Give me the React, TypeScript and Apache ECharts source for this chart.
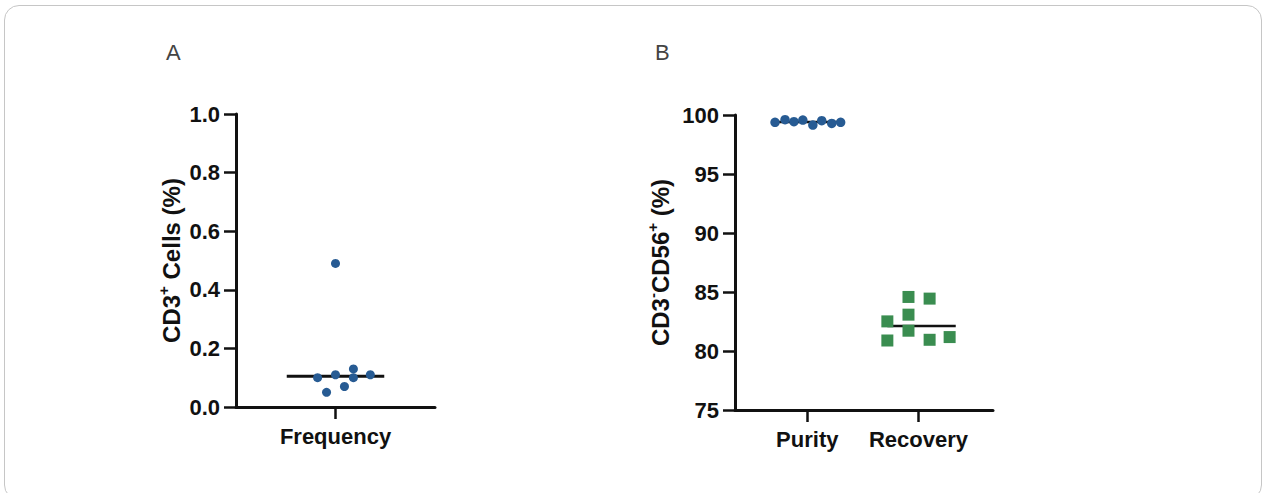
import React, { useEffect, useRef } from "react";
import * as echarts from "echarts";

// Panel A: CD3+ cells frequency
const freqCategory = "Frequency";
const freqValues = [0.49, 0.10, 0.05, 0.11, 0.07, 0.13, 0.10, 0.11];
const freqJitter = [0, -0.18, -0.09, 0, 0.09, 0.18, 0.18, 0.35];

// Panel B: purity and recovery of CD3-CD56+ cells
const purityCategory = "Purity";
const purityValues = [99.38, 99.6, 99.43, 99.57, 99.15, 99.52, 99.29, 99.38];
const purityJitter = [-0.29, -0.2, -0.12, -0.04, 0.05, 0.13, 0.22, 0.3];

const recoveryCategory = "Recovery";
const recoveryValues = [82.51, 80.89, 84.58, 83.08, 81.72, 84.44, 80.95, 81.18];
const recoveryJitter = [-0.28, -0.28, -0.09, -0.09, -0.09, 0.1, 0.1, 0.28];

const yTicksA = [0, 0.2, 0.4, 0.6, 0.8, 1.0];
const yTicksB = [75, 80, 85, 90, 95, 100];

const BLUE = "#275b93";
const GREEN = "#3a8d50";
const INK = "#111111";
const FONT = "'Liberation Sans', Arial, Helvetica, sans-serif";

function median(arr: number[]): number {
  const s = [...arr].sort((a, b) => a - b);
  const n = s.length;
  return n % 2 ? s[(n - 1) / 2] : (s[n / 2 - 1] + s[n / 2]) / 2;
}

export default function App() {
  const ref = useRef<HTMLDivElement>(null);

  useEffect(() => {
    if (!ref.current) return;
    const chart = echarts.init(ref.current, undefined, { renderer: "svg" });

    const axisLine = { show: true, onZero: false, lineStyle: { color: INK, width: 3 } };
    const axisTick = { show: true, length: 12, lineStyle: { color: INK, width: 2.5 } };
    const labelStyle = { color: INK, fontSize: 22, fontWeight: "bold" as const, fontFamily: FONT };
    const nameStyle = {
      color: INK,
      fontSize: 24,
      fontWeight: "bold" as const,
      fontFamily: FONT,
      rich: {
        m: { fontSize: 24, fontWeight: "bold" as const, fontFamily: FONT, color: INK, lineHeight: 30 },
        sup: { fontSize: 15, fontWeight: "bold" as const, fontFamily: FONT, color: INK, verticalAlign: "top" as const, lineHeight: 16 },
      },
    };

    const medA = median(freqValues);
    const medP = median(purityValues);
    const medR = median(recoveryValues);

    chart.setOption({
      animation: false,
      backgroundColor: "transparent",
      graphic: [
        { type: "text", left: 166, top: 41, style: { text: "A", fontSize: 22, fontFamily: FONT, fill: "#444" } },
        { type: "text", left: 655, top: 41, style: { text: "B", fontSize: 22, fontFamily: FONT, fill: "#444" } },
      ],
      grid: [
        { left: 236, top: 114, width: 199, height: 293 },
        { left: 735, top: 115, width: 258, height: 295 },
      ],
      xAxis: [
        {
          gridIndex: 0,
          type: "value",
          min: -1,
          max: 1,
          axisLine,
          axisTick: { ...axisTick, customValues: [0] },
          axisLabel: { ...labelStyle, margin: 18, customValues: [0], formatter: () => freqCategory },
          splitLine: { show: false },
        },
        {
          gridIndex: 1,
          type: "value",
          min: 0.35,
          max: 2.67,
          axisLine,
          axisTick: { ...axisTick, customValues: [1, 2] },
          axisLabel: {
            ...labelStyle,
            margin: 18,
            customValues: [1, 2],
            formatter: (v: number) => (v === 1 ? purityCategory : recoveryCategory),
          },
          splitLine: { show: false },
        },
      ],
      yAxis: [
        {
          gridIndex: 0,
          type: "value",
          min: yTicksA[0],
          max: yTicksA[yTicksA.length - 1],
          interval: 0.2,
          axisLine,
          axisTick,
          axisLabel: { ...labelStyle, margin: 16, formatter: (v: number) => v.toFixed(1) },
          splitLine: { show: false },
          name: "{m|CD3}{sup|+}{m| Cells (%)}",
          nameLocation: "middle",
          nameGap: 50,
          nameTextStyle: nameStyle,
        },
        {
          gridIndex: 1,
          type: "value",
          min: yTicksB[0],
          max: yTicksB[yTicksB.length - 1],
          interval: 5,
          axisLine,
          axisTick,
          axisLabel: { ...labelStyle, margin: 16 },
          splitLine: { show: false },
          name: "{m|CD3}{sup|-}{m|CD56}{sup|+}{m| (%)}",
          nameLocation: "middle",
          nameGap: 60,
          nameTextStyle: nameStyle,
        },
      ],
      series: [
        {
          type: "line",
          xAxisIndex: 0,
          yAxisIndex: 0,
          data: [[-0.49, medA], [0.49, medA]],
          symbol: "none",
          lineStyle: { color: INK, width: 3 },
          z: 1,
        },
        {
          type: "scatter",
          xAxisIndex: 0,
          yAxisIndex: 0,
          data: freqValues.map((v, i) => [freqJitter[i], v]),
          symbol: "circle",
          symbolSize: 9,
          itemStyle: { color: BLUE, opacity: 1 },
          z: 3,
        },
        {
          type: "line",
          xAxisIndex: 1,
          yAxisIndex: 1,
          data: [[1 - 0.29, medP], [1 + 0.3, medP]],
          symbol: "none",
          lineStyle: { color: INK, width: 2.5 },
          z: 1,
        },
        {
          type: "scatter",
          xAxisIndex: 1,
          yAxisIndex: 1,
          data: purityValues.map((v, i) => [1 + purityJitter[i], v]),
          symbol: "circle",
          symbolSize: 9.5,
          itemStyle: { color: BLUE, opacity: 1 },
          z: 3,
        },
        {
          type: "line",
          xAxisIndex: 1,
          yAxisIndex: 1,
          data: [[2 - 0.28, medR], [2 + 0.335, medR]],
          symbol: "none",
          lineStyle: { color: INK, width: 2.5 },
          z: 1,
        },
        {
          type: "scatter",
          xAxisIndex: 1,
          yAxisIndex: 1,
          data: recoveryValues.map((v, i) => [2 + recoveryJitter[i], v]),
          symbol: "rect",
          symbolSize: 12,
          itemStyle: { color: GREEN, opacity: 1 },
          z: 3,
        },
      ],
    });

    return () => chart.dispose();
  }, []);

  return (
    <div style={{ position: "absolute", left: 0, top: 0, width: 1265, height: 493, background: "#fff" }}>
      <div
        style={{
          position: "absolute",
          left: 4,
          top: 5,
          width: 1258,
          height: 495,
          border: "1px solid #c6c6c6",
          borderRadius: 15,
          boxSizing: "border-box",
        }}
      />
      <div ref={ref} style={{ position: "absolute", left: 0, top: 0, width: 1265, height: 493 }} />
    </div>
  );
}
